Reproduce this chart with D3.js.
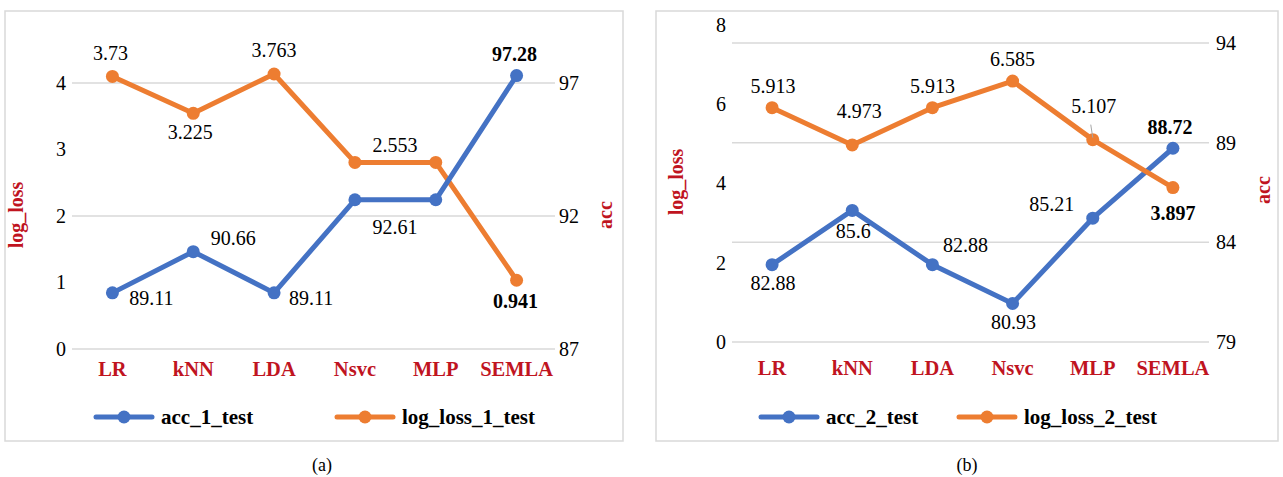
<!DOCTYPE html>
<html><head><meta charset="utf-8">
<script src="https://cdn.jsdelivr.net/npm/d3@7"></script>
<style>
html,body{margin:0;padding:0;background:#fff;}
svg, svg text{font-family:"Liberation Serif","Times New Roman",serif !important;}
</style></head>
<body><svg id="c" width="1283" height="477" font-family="Liberation Serif"></svg>
<script>
const categories = ["LR","kNN","LDA","Nsvc","MLP","SEMLA"];
const acc1 = [89.11, 90.66, 89.11, 92.61, 92.61, 97.28];
const loss1 = [3.73, 3.225, 3.763, 2.553, 2.553, 0.941];
const acc2 = [82.88, 85.6, 82.88, 80.93, 85.21, 88.72];
const loss2 = [5.913, 4.973, 5.913, 6.585, 5.107, 3.897];
const leftTicks1 = [0,1,2,3,4];
const rightTicks1 = [87,92,97];
const leftTicks2 = [0,2,4,6,8];
const rightTicks2 = [79,84,89,94];
// label placement offsets [dx,dy] relative to point; null = hidden
const accLab1 = [[39,5],[40,-14],[37,5],[40,27],null,[-2,-22]];
const lossLab1 = [[-2,-23],[-3,19],[0,-24],[40,-17],null,[-1,21]];
const accLab2 = [[1,18],[1,21],[33,-20],[1,18],[-41,-14],[-3,-21]];
const lossLab2 = [[1,-22],[7,-34],[0,-22],[0,-22],[1,-34],[0,25]];
const bold1 = [false,false,false,false,false,true];

const BLUE="#4472C4", ORANGE="#ED7D31", RED="#C0141F", GRID="#D9D9D9";
const FONT = "Liberation Serif";
const svg = d3.select("#c");

function drawChart(cfg){
  const g = svg.append("g");
  g.append("rect").attr("x",cfg.box[0]).attr("y",cfg.box[1]).attr("width",cfg.box[2]).attr("height",cfg.box[3])
    .attr("fill","#fff").attr("stroke","#D9D9D9").attr("stroke-width",1.5);
  const x = d3.scaleBand().domain(categories).range(cfg.xr).paddingInner(0).paddingOuter(0);
  const cx = d => x(d)+x.bandwidth()/2;
  const yL = d3.scaleLinear().domain(cfg.leftDom).range(cfg.leftRange);
  const yR = d3.scaleLinear().domain(cfg.rightDom).range(cfg.rightRange);
  const yLoss = d3.scaleLinear().domain(cfg.lossDom).range(cfg.leftRange);
  g.selectAll(".grid").data(cfg.rightTicks).join("line")
    .attr("x1",cfg.xr[0]).attr("x2",cfg.xr[1]+cfg.gridExt).attr("y1",d=>yR(d)).attr("y2",d=>yR(d))
    .attr("stroke",GRID).attr("stroke-width",1.5);
  const la = d3.axisLeft(yL).tickValues(cfg.leftTicks).tickFormat(d3.format("d")).tickSize(0).tickPadding(0);
  const lg = g.append("g").attr("transform",`translate(${cfg.leftLabX},0)`).call(la);
  lg.attr("font-family",FONT);
  lg.select(".domain").remove();
  lg.selectAll("text").attr("font-size",20).attr("fill","#000").attr("font-family",FONT);
  const ra = d3.axisRight(yR).tickValues(cfg.rightTicks).tickFormat(d3.format("d")).tickSize(0).tickPadding(0);
  const rg = g.append("g").attr("transform",`translate(${cfg.rightLabX},0)`).call(ra);
  rg.attr("font-family",FONT);
  rg.select(".domain").remove();
  rg.selectAll("text").attr("font-size",20).attr("fill","#000").attr("font-family",FONT);
  g.selectAll(".cat").data(categories).join("text")
    .attr("x",d=>cx(d)).attr("y",cfg.catY).attr("text-anchor","middle").attr("dy","0.35em")
    .attr("font-family",FONT).attr("font-size",20.5).attr("font-weight","bold").attr("fill",RED).text(d=>d);
  g.append("text").attr("transform",`translate(${cfg.lTitle[0]},${cfg.lTitle[1]}) rotate(-90)`)
    .attr("text-anchor","middle").attr("dy","0.35em").attr("font-family",FONT).attr("font-size",20).attr("font-weight","bold").attr("fill",RED).text("log_loss");
  g.append("text").attr("transform",`translate(${cfg.rTitle[0]},${cfg.rTitle[1]}) rotate(-90)`)
    .attr("text-anchor","middle").attr("dy","0.35em").attr("font-family",FONT).attr("font-size",20).attr("font-weight","bold").attr("fill",RED).text("acc");
  const series = [
    {vals:cfg.loss, y:yLoss, color:ORANGE, labs:cfg.lossLab},
    {vals:cfg.acc, y:yR, color:BLUE, labs:cfg.accLab}
  ];
  const order = cfg.blueOnTop ? [0,1] : [1,0];
  order.forEach(i=>{
    const s = series[i];
    const pts = categories.map((c,j)=>[cx(c), s.y(s.vals[j])]);
    g.append("path").attr("d",d3.line()(pts)).attr("fill","none").attr("stroke",s.color)
      .attr("stroke-width",5).attr("stroke-linejoin","round").attr("stroke-linecap","round");
    g.selectAll(null).data(pts).join("circle").attr("cx",d=>d[0]).attr("cy",d=>d[1]).attr("r",6.5).attr("fill",s.color);
  });
  series.forEach(s=>{
    categories.forEach((c,j)=>{
      const o = s.labs[j]; if(!o) return;
      g.append("text").attr("x",cx(c)+o[0]).attr("y",s.y(s.vals[j])+o[1]).attr("dy","0.35em")
        .attr("text-anchor","middle").attr("font-family",FONT).attr("font-size",20).attr("fill","#000")
        .attr("font-weight",bold1[j]?"bold":"normal").text(String(s.vals[j]));
    });
  });
  if(cfg.leader){
    const j = cfg.leader;
    const px = cx(categories[j]), py = yLoss(cfg.loss[j]);
    g.append("line").attr("x1",px-2).attr("y1",py-15).attr("x2",px).attr("y2",py-2).attr("stroke","#A6A6A6").attr("stroke-width",1);
  }
  const leg = [{n:cfg.accName,c:BLUE,x:cfg.legX[0]},{n:cfg.lossName,c:ORANGE,x:cfg.legX[1]}];
  leg.forEach(l=>{
    g.append("line").attr("x1",l.x).attr("x2",l.x+56).attr("y1",cfg.legY).attr("y2",cfg.legY)
      .attr("stroke",l.c).attr("stroke-width",5).attr("stroke-linecap","round");
    g.append("circle").attr("cx",l.x+28).attr("cy",cfg.legY).attr("r",6.5).attr("fill",l.c);
    g.append("text").attr("x",l.x+65).attr("y",cfg.legY).attr("dy","0.35em").attr("font-family",FONT).attr("font-size",21)
      .attr("font-weight","bold").attr("fill","#000").text(l.n);
  });
  svg.append("text").attr("x",cfg.capX).attr("y",465).attr("dy","0.35em").attr("text-anchor","middle")
    .attr("font-family",FONT).attr("font-size",18).attr("fill","#000").text(cfg.cap);
}

drawChart({box:[5,11,618,430], xr:[72,557], gridExt:-2,
  leftDom:[0,4], leftRange:[349,83], rightDom:[87,97], rightRange:[349,83], lossDom:[0,3.64],
  leftTicks:leftTicks1, rightTicks:rightTicks1, leftLabX:66, rightLabX:559,
  catY:369, lTitle:[16,215], rTitle:[605,215],
  acc:acc1, loss:loss1, accLab:accLab1, lossLab:lossLab1, blueOnTop:true,
  legY:417, legX:[96,337], accName:"acc_1_test", lossName:"log_loss_1_test", capX:322, cap:"(a)"});

drawChart({box:[656,11,622,430], xr:[732,1213], gridExt:-4,
  leftDom:[0,8], leftRange:[342,25], rightDom:[79,94], rightRange:[342,43], lossDom:[0,8],
  leftTicks:leftTicks2, rightTicks:rightTicks2, leftLabX:726, rightLabX:1216,
  catY:368, lTitle:[676,182], rTitle:[1263,190],
  acc:acc2, loss:loss2, accLab:accLab2, lossLab:lossLab2, blueOnTop:false, leader:4,
  legY:417, legX:[761,959], accName:"acc_2_test", lossName:"log_loss_2_test", capX:967, cap:"(b)"});
</script></body></html>
